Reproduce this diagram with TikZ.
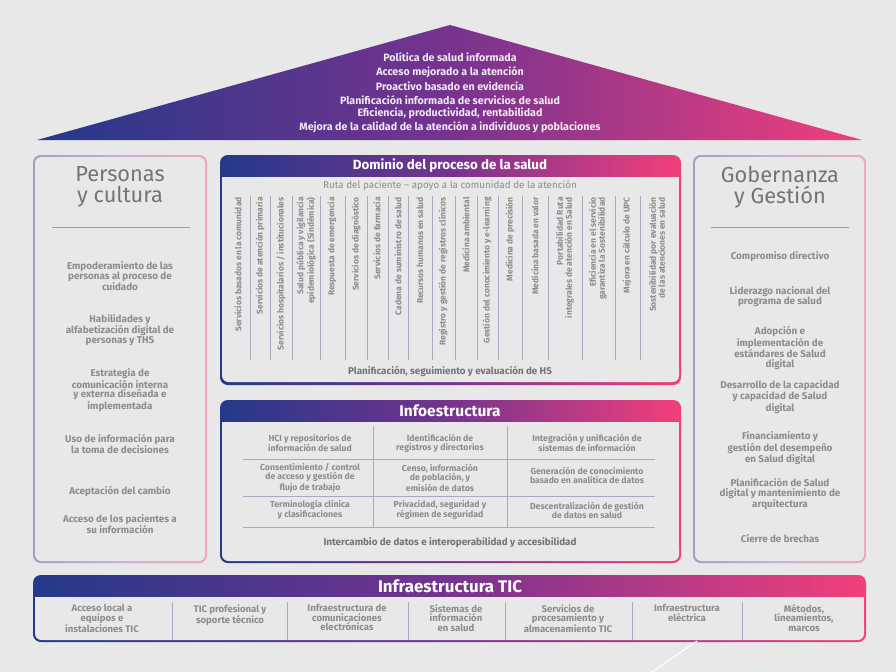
\documentclass[tikz,border=0pt]{standalone}
\usepackage{fontspec}
\setmainfont{Fira Sans}
\usepackage{tikz}
\usetikzlibrary{calc, fit, positioning}
\definecolor{hsblue}{HTML}{24398A}
\definecolor{hspurple}{HTML}{76338F}
\definecolor{hspink}{HTML}{F23F7B}
\definecolor{hsback}{HTML}{E8E8E8}
\definecolor{hsgrey}{HTML}{8C8C8C}
\definecolor{hstitle}{HTML}{747474}
\definecolor{hsline}{HTML}{A7AABF}
\tikzstyle{band}      = [left color=hsblue, right color=hspink, middle color=hspurple]
\tikzstyle{softband}  = [left color=hsblue!40!hsback, right color=hspink!40!hsback, middle color=hspurple!30!hsback]
\tikzstyle{panelfill} = [fill=hsback]
\tikzstyle{roofline}  = [text=white!88!hspurple, inner sep=0pt, font=\fontsize{7.6}{10}\selectfont\bfseries]
\tikzstyle{headtext}  = [text=white, inner sep=0pt, font=\fontsize{9.5}{10}\selectfont\bfseries]
\tikzstyle{paneltitle}= [text=hstitle, align=center, inner sep=0pt, font=\fontsize{15.5}{15}\selectfont]
\tikzstyle{panelitem} = [text=hsgrey, align=center, inner sep=0pt, font=\fontsize{7}{7}\selectfont\bfseries]
\tikzstyle{infocell}  = [text=hsgrey, align=center, inner sep=0pt, font=\fontsize{6.2}{6.4}\selectfont\bfseries]
\tikzstyle{subtext}   = [text=hsgrey, inner sep=0pt, font=\fontsize{7}{8}\selectfont]
\tikzstyle{subbold}   = [text=hstitle, inner sep=0pt, font=\fontsize{7}{8}\selectfont\bfseries]
\tikzstyle{route}     = [text=hsgrey, align=right, rotate=90, anchor=east, inner sep=0pt, font=\fontsize{6}{6.4}\selectfont\bfseries]
\tikzstyle{colsep}    = [hsline, line width=0.6pt]

\begin{document}
\begin{tikzpicture}[x=0.25mm, y=-0.25mm]
  \useasboundingbox (0,0) rectangle (896,672);
  \fill[hsback] (0,0) rectangle (896,672);

  % roof
  \coordinate (RoofLeft) at (37,140);
  \coordinate (RoofTop) at (450,25);
  \coordinate (RoofRight) at (862,140);
  \shade[band] (RoofLeft) -- (RoofTop) -- (RoofRight) -- cycle;
  \foreach \y/\txt in {57/Política de salud informada, 72/Acceso mejorado a la atención,
      86/Proactivo basado en evidencia, 100/Planificación informada de servicios de salud,
      113/{Eficiencia, productividad, rentabilidad},
      127/Mejora de la calidad de la atención a individuos y poblaciones} {
    \node[roofline] (roof\y) at (450,\y) {\txt};
  }

  % left pillar
  \shade[softband, rounded corners=5.5pt] (33,155) rectangle (207,563);
  \fill[panelfill, rounded corners=4.5pt] (35,157) rectangle (205,561);
  \node[paneltitle] (Personas) at (120,187) {Personas\\y cultura};
  \draw[hsline!70!gray] (52,227) -- (190,227);
  \foreach \y/\txt in {276/Empoderamiento de las\\personas al proceso de\\cuidado,
      330/Habilidades y\\alfabetización digital de\\personas y THS,
      390/Estrategia de\\comunicación interna\\y externa diseñada e\\implementada,
      444/Uso de información para\\la toma de decisiones,
      491/Aceptación del cambio,
      524/Acceso de los pacientes a\\su información} {
    \node[panelitem] (pc\y) at (120,\y) {\txt};
  }

  % right pillar
  \shade[softband, rounded corners=5.5pt] (693,155) rectangle (866,563);
  \fill[panelfill, rounded corners=4.5pt] (695,157) rectangle (864,561);
  \node[paneltitle] (Gobernanza) at (780,187) {Gobernanza\\y Gestión};
  \draw[hsline!70!gray] (711,227) -- (849,227);
  \foreach \y/\txt in {257/Compromiso directivo,
      297/Liderazgo nacional del\\programa de salud,
      348/Adopción e\\implementación de\\estándares de Salud\\digital,
      397/Desarrollo de la capacidad\\y capacidad de Salud\\digital,
      448/Financiamiento y\\gestión del desempeño\\en Salud digital,
      494/Planificación de Salud\\digital y mantenimiento de\\arquitectura,
      539/Cierre de brechas} {
    \node[panelitem] (gg\y) at (780,\y) {\txt};
  }

  % health process domain
  \shade[band, rounded corners=5.5pt] (220,155) rectangle (681,385);
  \fill[panelfill] (222,177) rectangle (679,370);
  \fill[panelfill, rounded corners=4.5pt] (222,360) rectangle (679,382);
  \node[headtext] (Dominio) at (450,166) {Dominio del proceso de la salud};
  \node[subtext] (Ruta) at (450,186) {Ruta del paciente – apoyo a la comunidad de la atención};
  \foreach \x in {250,270,292,320,345,367,388,408,432,455,477,498,522,548,582,615,640} {
    \draw[colsep] (\x,196) -- (\x,360);
  }
  \foreach \x/\txt in {238/Servicios basados en la comunidad, 260/Servicios de atención primaria,
      281/{Servicios hospitalarios / institucionales},
      306/Salud pública y vigilancia\\epidemiológica (Sindémica),
      332/Respuesta de emergencia, 356/Servicios de diagnóstico, 377/Servicios de farmacia,
      398/Cadena de suministro de salud, 420/Recursos humanos en salud,
      443/Registro y gestión de registros clínicos, 466/Medicina ambiental,
      487/Gestión del conocimiento y e-learning, 510/Medicina de precisión,
      535/Medicina basada en valor,
      565/Portabilidad Ruta\\integrales de atención en Salud,
      598/Eficiencia en el servicio\\garantiza la Sostenibilidad,
      627/Mejora en cálculo de UPC,
      657/Sostenibilidad por evaluación\\de las atenciones en salud} {
    \node[route] (col\x) at (\x,197) {\txt};
  }
  \node[subbold] (Planificacion) at (450,371) {Planificación, seguimiento y evaluación de HS};

  % infostructure
  \shade[band, rounded corners=5.5pt] (220,400) rectangle (681,563);
  \fill[panelfill] (222,422) rectangle (679,550);
  \fill[panelfill, rounded corners=4.5pt] (222,540) rectangle (679,561);
  \node[headtext, font=\fontsize{11}{12}\selectfont\bfseries] (Infoestructura) at (450,411) {Infoestructura};
  \foreach \y in {459,496,527} {
    \draw[colsep] (243,\y) -- (655,\y);
  }
  \foreach \x in {373,507} {
    \draw[colsep] (\x,426) -- (\x,527);
  }
  \foreach \x/\y/\txt in {310/443/HCI y repositorios de\\información de salud,
      440/443/Identificación de\\registros y directorios,
      587/443/Integración y unificación de\\sistemas de información,
      310/478/{Consentimiento / control\\de acceso y gestión de\\flujo de trabajo},
      440/478/{Censo, información\\de población, y\\emisión de datos},
      587/475/Generación de conocimiento\\basado en analítica de datos,
      310/510/Terminología clínica\\y clasificaciones,
      440/510/{Privacidad, seguridad y\\régimen de seguridad},
      587/510/Descentralización de gestión\\de datos en salud} {
    \node[infocell] (info\x\y) at (\x,\y) {\txt};
  }
  \node[subbold] (Intercambio) at (450,543) {Intercambio de datos e interoperabilidad y accesibilidad};

  % ICT infrastructure
  \shade[band, rounded corners=5.5pt] (33,575) rectangle (866,642);
  \fill[panelfill] (35,597) rectangle (864,630);
  \fill[panelfill, rounded corners=4.5pt] (35,620) rectangle (864,640);
  \node[headtext, font=\fontsize{12}{13}\selectfont\bfseries] (TIC) at (450,586) {Infraestructura TIC};
  \foreach \x in {172,287,408,505,632,742} {
    \draw[colsep] (\x,602) -- (\x,640);
  }
  \foreach \x/\txt in {102/Acceso local a\\equipos e\\instalaciones TIC,
      230/TIC profesional y\\soporte técnico,
      347/Infraestructura de\\comunicaciones\\electrónicas,
      456/Sistemas de\\información\\en salud,
      568/Servicios de\\procesamiento y\\almacenamiento TIC,
      687/Infraestructura\\eléctrica,
      804/{Métodos,\\lineamientos,\\marcos}} {
    \node[infocell, anchor=north, font=\fontsize{6.8}{6.8}\selectfont\bfseries] (tic\x) at (\x,604) {\txt};
  }

  % pointer
  \coordinate (PointerTip) at (697,641);
  \coordinate (PointerEnd) at (652,672);
  \draw[white, line width=0.8pt] (PointerTip) -- (PointerEnd);
\end{tikzpicture}
\end{document}
